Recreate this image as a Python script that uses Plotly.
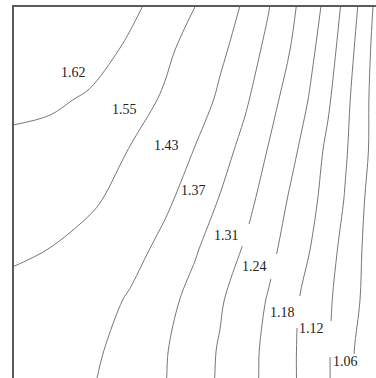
import plotly.graph_objects as go

# contour levels, as labelled in the picture
levels = [1.62, 1.55, 1.43, 1.37, 1.31, 1.24, 1.18, 1.12, 1.06]

# grid coordinates (horizontal / vertical distance)
x_grid = [13, 50, 90, 130, 165, 195, 220, 245, 268, 290, 310, 328, 345, 360, 376, 395]
y_grid = [6, 50, 100, 150, 200, 250, 300, 350, 378, 400]

# field values, one row per y_grid entry
z_row_006 = [1.700, 1.695, 1.680, 1.637, 1.590, 1.551, 1.481, 1.417, 1.374, 1.327, 1.273, 1.219, 1.166, 1.112, 1.048, 0.972]
z_row_050 = [1.675, 1.670, 1.653, 1.607, 1.563, 1.524, 1.444, 1.398, 1.357, 1.310, 1.254, 1.205, 1.152, 1.099, 1.040, 0.964]
z_row_100 = [1.633, 1.633, 1.610, 1.577, 1.542, 1.467, 1.417, 1.378, 1.334, 1.285, 1.235, 1.188, 1.136, 1.090, 1.036, 0.960]
z_row_150 = [1.607, 1.590, 1.579, 1.548, 1.482, 1.427, 1.392, 1.353, 1.308, 1.258, 1.211, 1.168, 1.127, 1.087, 1.036, 0.960]
z_row_200 = [1.582, 1.576, 1.570, 1.503, 1.442, 1.400, 1.367, 1.330, 1.285, 1.233, 1.196, 1.158, 1.117, 1.076, 1.020, 0.944]
z_row_250 = [1.558, 1.549, 1.502, 1.453, 1.411, 1.375, 1.341, 1.304, 1.258, 1.216, 1.180, 1.141, 1.103, 1.067, 1.008, 0.932]
z_row_300 = [1.534, 1.499, 1.461, 1.423, 1.387, 1.352, 1.317, 1.276, 1.236, 1.196, 1.161, 1.129, 1.093, 1.060, 0.996, 0.920]
z_row_350 = [1.512, 1.479, 1.443, 1.406, 1.374, 1.338, 1.305, 1.263, 1.226, 1.191, 1.157, 1.125, 1.086, 1.044, 0.980, 0.904]
z_row_378 = [1.500, 1.469, 1.436, 1.402, 1.372, 1.336, 1.303, 1.262, 1.225, 1.191, 1.157, 1.125, 1.085, 1.040, 0.976, 0.900]
z_row_400 = [1.490, 1.462, 1.432, 1.399, 1.370, 1.334, 1.302, 1.260, 1.224, 1.191, 1.157, 1.125, 1.083, 1.036, 0.972, 0.896]

z = [z_row_006, z_row_050, z_row_100, z_row_150, z_row_200,
     z_row_250, z_row_300, z_row_350, z_row_378, z_row_400]

# where each level's label sits: (left, top, box width, box height, vertical align)
# the white box also opens the gap in the line, as in the original
_LABEL_BOX = [
    (61, 65, 28, 15, "middle"),
    (112, 102, 28, 15, "middle"),
    (154, 138, 28, 15, "middle"),
    (181, 183, 28, 15, "middle"),
    (214, 224, 39, 22, "middle"),
    (242, 254, 36, 25, "middle"),
    (270, 296, 31, 32, "middle"),
    (299, 321, 34, 36, "top"),
    (333, 354, 26, 24, "top"),
]

fig = go.Figure()
for lv in levels:
    fig.add_trace(go.Contour(
        x=x_grid,
        y=y_grid,
        z=z,
        contours=dict(start=lv, end=lv, size=0.01, coloring="none", showlabels=False),
        line=dict(color="#777777", width=1, smoothing=1),
        showscale=False,
        hoverinfo="skip",
    ))

for lv, (bx, by, bw, bh, va) in zip(levels, _LABEL_BOX):
    fig.add_annotation(
        x=bx, y=by, xref="x", yref="y",
        xanchor="left", yanchor="top",
        width=bw, height=bh, align="left", valign=va,
        text=f"{lv:.2f}",
        showarrow=False,
        bgcolor="white", borderpad=0, borderwidth=0,
        font=dict(family="Liberation Serif", size=14, color="#222222"),
    )

fig.update_layout(
    width=376,
    height=378,
    margin=dict(l=14, r=0, t=7, b=0),
    paper_bgcolor="white",
    plot_bgcolor="white",
    showlegend=False,
    xaxis=dict(range=[14, 376], side="top", showline=True, linecolor="#5a5a5a",
               linewidth=2, showgrid=False, zeroline=False, showticklabels=False, ticks=""),
    yaxis=dict(range=[378, 7], showline=True, linecolor="#5a5a5a",
               linewidth=2, showgrid=False, zeroline=False, showticklabels=False, ticks=""),
)

fig.write_html("out.html", config={"displayModeBar": False},
               post_script="document.body.style.margin='0';")
